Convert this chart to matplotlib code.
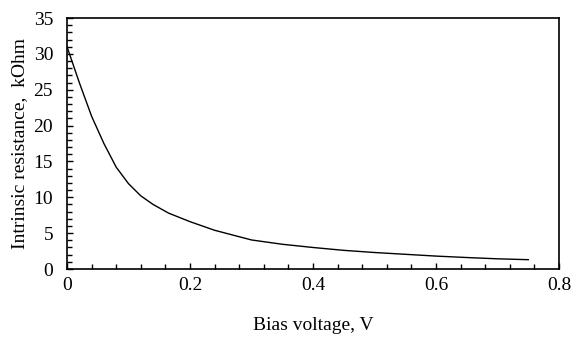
import numpy as np
import matplotlib
matplotlib.use('Agg')
from matplotlib import pyplot as plt
from matplotlib.ticker import MultipleLocator

# curve
bias_v = [0, 0.02, 0.04, 0.06, 0.08, 0.10, 0.12, 0.14, 0.165, 0.20, 0.24, 0.30,
          0.35, 0.40, 0.45, 0.50, 0.55, 0.60, 0.65, 0.70, 0.75]
resistance = [31.0, 26.0, 21.3, 17.5, 14.2, 11.9, 10.2, 9.0, 7.8, 6.6, 5.4, 4.05,
              3.45, 3.0, 2.6, 2.3, 2.05, 1.8, 1.6, 1.42, 1.3]

plt.rcParams['font.family'] = ['Liberation Serif', 'DejaVu Serif']
plt.rcParams['font.size'] = 14

fig = plt.figure(figsize=(5.84, 3.43), dpi=100)
ax = fig.add_axes([67/584, 1 - 269/343, (559-67)/584, (269-18)/343])

ax.plot(bias_v, resistance, color='black', lw=1.0)

ax.set_xlim(0, 0.8)
ax.set_ylim(0, 35)
ax.xaxis.set_minor_locator(MultipleLocator(0.04))
ax.yaxis.set_major_locator(MultipleLocator(5))
ax.yaxis.set_minor_locator(MultipleLocator(1))
ax.set_xticks([0, 0.2, 0.4, 0.6, 0.8])
ax.set_xticklabels(['0', '0.2', '0.4', '0.6', '0.8'])

ax.tick_params(which='both', direction='in', width=1.0, top=False, right=False)
ax.tick_params(which='major', length=4.5)
ax.tick_params(which='minor', length=3.5)
ax.tick_params(axis='x', which='major', pad=6)
ax.tick_params(axis='y', which='major', pad=10)
for s in ax.spines.values():
    s.set_linewidth(1.2)

ax.set_xlabel('Bias voltage, V', labelpad=16)
ax.set_ylabel('Intrinsic resistance,  kOhm', labelpad=4)

fig.savefig('out.png', dpi=100)
